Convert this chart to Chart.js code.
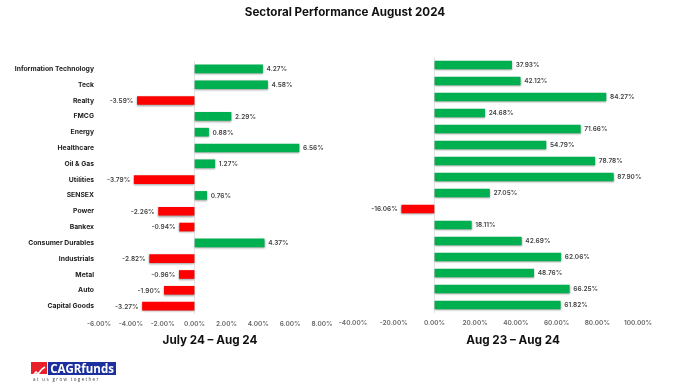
<!DOCTYPE html>
<html>
<head>
<meta charset="utf-8">
<title>Sectoral Performance August 2024</title>
<script src="https://cdn.jsdelivr.net/npm/chart.js@4"></script>
<style>
  html, body { margin: 0; padding: 0; background: #fff; }
  #page { position: relative; width: 680px; height: 386px; overflow: hidden; font-family: Inter, sans-serif; color: #111; }
  canvas { position: absolute; top: 0; }
  .txt { position: absolute; font-weight: 700; white-space: nowrap; transform: translateX(-50%); }
  #title { left: 345px; top: 5px; font-size: 11.6px; }
  .cap { top: 333px; font-size: 11.7px; }
  #logoRed { position: absolute; left: 31px; top: 362px; width: 16px; height: 12px; background: #e8202a; }
  #logoBlue { position: absolute; left: 48px; top: 362px; width: 68px; height: 13px; background: #1b2f9e; color: #fff; font: 700 11.5px "Open Sans", sans-serif; line-height: 13px; text-align: center; }
  #logoSub { position: absolute; left: 33px; top: 376px; font: 400 4.5px "Open Sans", sans-serif; letter-spacing: 1.35px; color: #444; white-space: nowrap; }
</style>
</head>
<body>
<div id="page">
  <canvas id="leftChart" width="340" height="386" style="left:0"></canvas>
  <canvas id="rightChart" width="350" height="386" style="left:330px"></canvas>
  <div id="title" class="txt">Sectoral Performance August 2024</div>
  <div class="txt cap" style="left:210px">July 24 – Aug 24</div>
  <div class="txt cap" style="left:513px">Aug 23 – Aug 24</div>
  <div id="logoRed">
    <svg width="16" height="12" viewBox="0 0 16 12"><polyline points="1,11 5,6 7,8 11,3 14,1" fill="none" stroke="#fff" stroke-width="1.6"/></svg>
  </div>
  <div id="logoBlue">CAGRfunds</div>
  <div id="logoSub">at us grow together</div>
</div>

<script>
const sectors = ["Information Technology", "Teck", "Realty", "FMCG", "Energy", "Healthcare", "Oil & Gas", "Utilities",
  "SENSEX", "Power", "Bankex", "Consumer Durables", "Industrials", "Metal", "Auto", "Capital Goods"];
const monthValues = [4.27, 4.58, -3.59, 2.29, 0.88, 6.56, 1.27, -3.79, 0.76, -2.26, -0.94, 4.37, -2.82, -0.96, -1.90, -3.27];
const yearValues = [37.93, 42.12, 84.27, 24.68, 71.66, 54.79, 78.78, 87.90, 27.05, -16.06, 18.11, 42.69, 62.06, 48.76, 66.25, 61.82];

const GREEN = "#00b050";
const RED = "#ff0000";

// drop shadow under the bars
const barShadow = {
  id: "barShadow",
  beforeDatasetsDraw(chart) {
    const ctx = chart.ctx;
    ctx.save();
    ctx.shadowColor = "rgba(0,0,0,0.4)";
    ctx.shadowBlur = 2;
    ctx.shadowOffsetY = 1;
  },
  afterDatasetsDraw(chart) {
    chart.ctx.restore();
  }
};

// value labels at the end of each bar
const barLabels = {
  id: "barLabels",
  afterDraw(chart) {
    const ctx = chart.ctx;
    const values = chart.data.datasets[0].data;
    ctx.save();
    ctx.font = "600 6.5px Inter, sans-serif";
    ctx.fillStyle = "#444";
    ctx.textBaseline = "middle";
    chart.getDatasetMeta(0).data.forEach((bar, i) => {
      const neg = values[i] < 0;
      ctx.textAlign = neg ? "right" : "left";
      ctx.fillText(values[i].toFixed(2) + "%", bar.x + (neg ? -4 : 4), bar.y + 0.5);
    });
    ctx.restore();
  }
};

function makeChart(id, values, opts) {
  return new Chart(document.getElementById(id), {
    type: "bar",
    data: {
      labels: sectors,
      datasets: [{
        data: values,
        backgroundColor: values.map(v => v < 0 ? RED : GREEN),
        barThickness: 8
      }]
    },
    options: {
      indexAxis: "y",
      responsive: false,
      animation: false,
      layout: { padding: { top: opts.top, right: opts.right, left: 0, bottom: 0 } },
      plugins: { legend: { display: false }, tooltip: { enabled: false } },
      scales: {
        x: {
          min: opts.min,
          max: opts.max,
          afterFit(scale) { scale.height = 386 - opts.bottom; },
          border: { display: false },
          grid: {
            drawTicks: false,
            color: c => c.tick.value === 0 ? "#e3e3e3" : "transparent"
          },
          ticks: {
            stepSize: opts.step,
            autoSkip: false,
            maxRotation: 0,
            padding: 6,
            color: "#666",
            font: { family: "Inter, sans-serif", size: 6.5, weight: "600" },
            callback: v => v.toFixed(2) + "%"
          }
        },
        y: {
          afterFit(scale) { scale.width = opts.axisWidth; },
          border: { display: false },
          grid: { display: false, drawTicks: false },
          ticks: {
            display: opts.showLabels,
            autoSkip: false,
            padding: 5,
            color: "#222",
            font: { family: "Inter, sans-serif", size: 6.8, weight: "700" }
          }
        }
      }
    },
    plugins: [barShadow, barLabels]
  });
}

makeChart("leftChart", monthValues, { min: -6, max: 8, step: 2, top: 61, bottom: 314, right: 18, axisWidth: 99, showLabels: true });
makeChart("rightChart", yearValues, { min: -40, max: 100, step: 20, top: 57, bottom: 313, right: 42, axisWidth: 23, showLabels: false });
</script>
</body>
</html>
